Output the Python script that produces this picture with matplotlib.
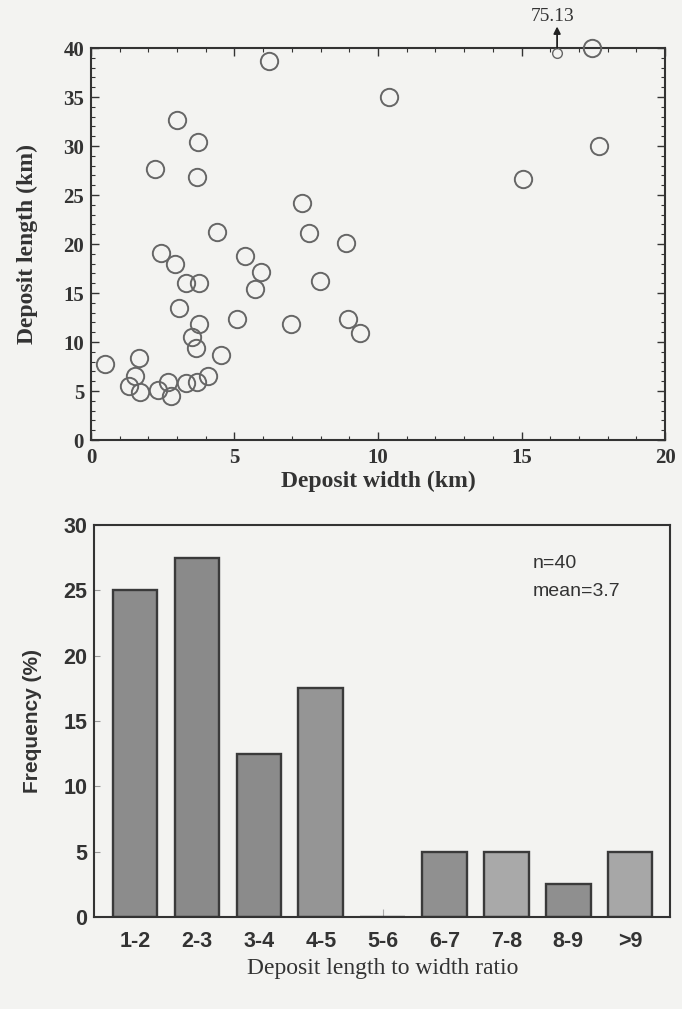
#!/usr/bin/env python3
"""Deposit width vs. length scatter plus histogram of length/width ratios."""

import matplotlib
matplotlib.use('Agg')
import matplotlib.pyplot as plt
import numpy as np
from matplotlib.ticker import MultipleLocator

# Deposit dimensions (km)
deposit_width = [6.19, 2.99, 3.72, 2.23, 3.69, 7.34, 4.39, 7.58, 8.87, 10.37,
                 17.46, 17.70, 15.06, 2.43, 2.92, 5.38, 5.91, 5.70, 3.30, 3.77,
                 7.97, 3.06, 5.09, 6.98, 8.95, 9.39, 3.76, 3.52, 3.65, 4.53,
                 0.49, 1.67, 1.53, 1.33, 1.70, 2.35, 2.69, 2.78, 3.30, 3.70,
                 4.08]
deposit_length = [38.7, 32.7, 30.4, 27.7, 26.8, 24.2, 21.2, 21.1, 20.1, 35.0,
                  40.0, 30.0, 26.6, 19.05, 18.0, 18.8, 17.1, 15.4, 16.05, 16.0,
                  16.2, 13.5, 12.4, 11.8, 12.3, 10.9, 11.8, 10.5, 9.4, 8.7,
                  7.8, 8.4, 6.5, 5.5, 4.85, 5.15, 5.95, 4.5, 5.85, 5.9,
                  6.5]

# Off-scale deposit shown at the top edge with an arrow
offscale_width = 16.24
offscale_length = 75.13

# Length-to-width ratio histogram
ratio_bins = ['1-2', '2-3', '3-4', '4-5', '5-6', '6-7', '7-8', '8-9', '>9']
ratio_freq = [25.0, 27.5, 12.5, 17.5, 0.0, 5.0, 5.0, 2.5, 5.0]
n_deposits = 40
mean_ratio = 3.7

BG = '#f3f3f1'
SPINE = '#333333'
bar_colors = ['#8c8c8c', '#8a8a8a', '#8b8b8b', '#959595', '#8e8e8e',
              '#909090', '#a9a9a9', '#8f8f8f', '#a7a7a7']

SERIF = ['Liberation Serif', 'DejaVu Serif']
SANS = ['Liberation Sans', 'DejaVu Sans']
NARROW = ['Liberation Sans Narrow', 'Liberation Sans', 'DejaVu Sans']

fig = plt.figure(figsize=(6.82, 10.09), dpi=100, facecolor=BG)

# ---------------- scatter: width vs length ----------------
ax1 = fig.add_axes([0.1334, 0.5639, 0.8417, 0.3885], facecolor=BG)
ax1.plot(deposit_width, deposit_length, 'o', ms=12.5, mfc='none',
         mec='#666666', mew=1.4, clip_on=False, zorder=3)

ylim_top = 40
ax1.plot([offscale_width], [min(offscale_length, ylim_top) - 0.5], 'o', ms=7,
         mfc='none', mec='#666666', mew=1.0, zorder=3)
ax1.annotate('', xy=(offscale_width, ylim_top + 2.2),
             xytext=(offscale_width, ylim_top), annotation_clip=False,
             arrowprops=dict(arrowstyle='-|>', color='#222222', lw=1.3,
                             mutation_scale=10, shrinkA=0, shrinkB=0))
ax1.text(offscale_width - 0.15, ylim_top + 3.2, f'{offscale_length:.2f}',
         ha='center', va='center', fontsize=14, family=SERIF,
         color='#333333', clip_on=False)

ax1.set_xlim(0, 20)
ax1.set_ylim(0, ylim_top)
ax1.xaxis.set_major_locator(MultipleLocator(5))
ax1.xaxis.set_minor_locator(MultipleLocator(1))
ax1.yaxis.set_major_locator(MultipleLocator(5))
ax1.yaxis.set_minor_locator(MultipleLocator(1))
ax1.tick_params(which='both', direction='in', top=True, right=True,
                color=SPINE)
ax1.tick_params(which='major', length=6, width=1.0)
ax1.tick_params(which='minor', length=3, width=0.8)
ax1.tick_params(axis='x', pad=6)
ax1.tick_params(axis='y', pad=5)
for lab in ax1.get_xticklabels() + ax1.get_yticklabels():
    lab.set_family(SERIF)
    lab.set_fontweight('bold')
    lab.set_fontsize(15)
    lab.set_color('#333333')
for sp in ax1.spines.values():
    sp.set_color(SPINE)
    sp.set_linewidth(1.5)

ax1.set_xlabel('Deposit width (km)', family=SERIF, fontweight='bold',
               fontsize=17, color='#333333')
ax1.set_ylabel('Deposit length (km)', family=SERIF, fontweight='bold',
               fontsize=17, color='#333333')
ax1.xaxis.set_label_coords(0.5, -0.078)
ax1.yaxis.set_label_coords(-0.093, 0.5)

# ---------------- histogram: length/width ratio ----------------
ax2 = fig.add_axes([0.1383, 0.0912, 0.8446, 0.3885], facecolor=BG)
ax2.set_axisbelow(True)
x = np.arange(len(ratio_bins))
ax2.bar(x, ratio_freq, width=0.72, color=bar_colors, edgecolor='#3a3a3a',
        linewidth=1.7, zorder=2)

ax2.set_xlim(-0.66, len(ratio_bins) - 0.35)
ax2.set_ylim(0, 30)
ax2.set_xticks(x)
ax2.set_xticklabels(ratio_bins)
ax2.yaxis.set_major_locator(MultipleLocator(5))
ax2.tick_params(axis='x', direction='in', length=6, width=0.8,
                color='#aaaaaa', pad=10)
ax2.tick_params(axis='y', direction='in', length=4, width=0.8,
                color='#999999', pad=5)
for lab in ax2.get_xticklabels() + ax2.get_yticklabels():
    lab.set_family(SANS)
    lab.set_fontweight('bold')
    lab.set_fontsize(15.5)
    lab.set_color('#333333')
for sp in ax2.spines.values():
    sp.set_color(SPINE)
    sp.set_linewidth(1.5)

ax2.text(0.761, 0.902, f'n={n_deposits}', transform=ax2.transAxes,
         ha='left', va='center', fontsize=14, family=NARROW, color='#333333')
ax2.text(0.761, 0.83, f'mean={mean_ratio}', transform=ax2.transAxes,
         ha='left', va='center', fontsize=14, family=NARROW, color='#333333')

ax2.set_ylabel('Frequency (%)', family=SANS, fontweight='bold',
               fontsize=15, color='#333333')
ax2.set_xlabel('Deposit length to width ratio', family=SERIF,
               fontsize=17, color='#333333')
ax2.yaxis.set_label_coords(-0.09, 0.5)
ax2.xaxis.set_label_coords(0.5, -0.105)

fig.savefig('out.png', dpi=100, facecolor=BG)
